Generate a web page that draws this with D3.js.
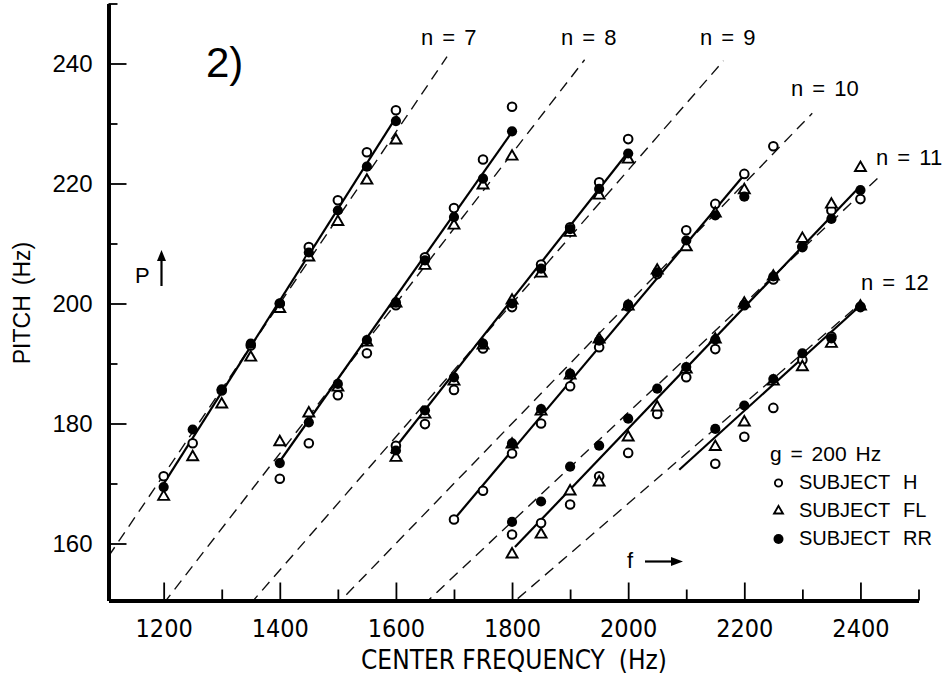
<!DOCTYPE html>
<html><head><meta charset="utf-8">
<script src="https://cdn.jsdelivr.net/npm/d3@7/dist/d3.min.js"></script>
<style>
html,body{margin:0;padding:0;background:#fff;}
svg{display:block;}
</style></head>
<body><svg id="chart" width="943" height="676"></svg>
<script>
// ---------------- DATA ----------------
const harmonicNumbers = [7, 8, 9, 10, 11, 12];

const freqN7  = [1200,1250,1300,1350,1400,1450,1500,1550,1600];
const hN7     = [171.2,176.7,185.5,193.0,200.0,209.4,217.2,225.2,232.2];
const flN7    = [167.8,174.4,183.2,191.0,199.1,207.7,213.6,220.5,227.2];
const rrN7    = [169.4,179.0,185.7,193.3,200.0,208.5,215.5,222.8,230.4];

const freqN8  = [1400,1450,1500,1550,1600,1650,1700,1750,1800];
const hN8     = [170.8,176.7,184.7,191.7,199.7,207.7,215.9,224.0,232.8];
const flN8    = [176.9,181.7,186.0,193.5,200.0,206.3,213.0,219.7,224.5];
const rrN8    = [173.4,180.2,186.6,193.9,200.2,207.2,214.4,220.8,228.7];

const freqN9  = [1600,1650,1700,1750,1800,1850,1900,1950,2000];
const hN9     = [176.3,179.9,185.6,192.5,199.4,206.5,212.7,220.2,227.4];
const flN9    = [174.3,181.5,187.0,193.0,200.5,205.0,211.8,218.0,224.0];
const rrN9    = [175.5,182.2,187.7,193.3,200.0,205.8,212.4,219.1,225.0];

const freqN10 = [1700,1750,1800,1850,1900,1950,2000,2050,2100,2150,2200,2250];
const hN10    = [164.0,168.8,175.0,180.0,186.2,192.7,199.5,204.9,212.2,216.6,221.6,226.2];
const flN10   = [null,null,176.5,182.0,188.0,194.0,199.5,205.5,209.4,215.0,218.9,null];
const rrN10   = [null,null,176.7,182.4,188.3,193.8,199.8,205.2,210.5,214.7,217.8,null];

const freqN11 = [1800,1850,1900,1950,2000,2050,2100,2150,2200,2250,2300,2350,2400];
const hN11    = [161.5,163.4,166.5,171.2,175.1,181.6,187.7,192.4,199.7,204.0,209.4,215.5,217.4];
const flN11   = [158.2,161.5,168.7,170.2,177.7,182.7,189.0,194.0,200.0,204.5,210.8,216.5,222.6];
const rrN11   = [163.6,167.0,172.8,176.3,180.8,185.8,189.4,194.0,199.8,204.5,209.5,214.1,218.9];

const freqN12 = [2150,2200,2250,2300,2350,2400];
const hN12    = [173.3,177.8,182.6,190.6,194.5,199.4];
const flN12   = [176.1,180.2,187.0,189.4,193.3,199.5];
const rrN12   = [179.1,183.0,187.4,191.7,194.2,199.5];

// solid fitted lines: [start f, start P], [end f, end P]
const fitStart = [[1195,169.2],[1395,173.0],[1591,175.0],[1700,164.0],[1805,159.4],[2088,172.3]];
const fitEnd   = [[1602,231.3],[1800,228.6],[1998,225.0],[2196,221.0],[2395,219.1],[2398,199.5]];

// dashed theoretical lines P = f/n end at these frequencies
const dashEndFreq = [1688, 1925, 2164, 2317, 2432, 2390];

const xMajorTicks = [1200,1400,1600,1800,2000,2200,2400];
const xMinorTicks = [1300,1500,1700,1900,2100,2300,2500];
const yMajorTicks = [160,180,200,220,240];
const yMinorTicks = [170,190,210,230,250];

const subjects = ["H","FL","RR"];

// ---------------- BUILD ----------------
const freqs = [freqN7,freqN8,freqN9,freqN10,freqN11,freqN12];
const hs  = [hN7,hN8,hN9,hN10,hN11,hN12];
const fls = [flN7,flN8,flN9,flN10,flN11,flN12];
const rrs = [rrN7,rrN8,rrN9,rrN10,rrN11,rrN12];

const svg = d3.select("#chart");
const X0 = 108.5, X1 = 918.5, Y0 = 600.5, Y1 = 3.5;
const x = d3.scaleLinear().domain([1105, 2500]).range([X0, X1]);
const y = d3.scaleLinear().domain([150.5, 250]).range([Y0, Y1]);

svg.append("defs").append("clipPath").attr("id","plotclip")
  .append("rect").attr("x", X0).attr("y", Y1).attr("width", X1 - X0).attr("height", Y0 - Y1);

const plot = svg.append("g").attr("clip-path","url(#plotclip)");

// dashed theoretical lines
harmonicNumbers.forEach((n,i) => {
  const f0 = 1105, f1 = dashEndFreq[i];
  plot.append("line")
    .attr("x1", x(f0)).attr("y1", y(f0/n))
    .attr("x2", x(f1)).attr("y2", y(f1/n))
    .attr("stroke","#111").attr("stroke-width",1.4)
    .attr("stroke-dasharray","11,7");
});

// solid fit lines
harmonicNumbers.forEach((n,i) => {
  plot.append("line")
    .attr("x1", x(fitStart[i][0])).attr("y1", y(fitStart[i][1]))
    .attr("x2", x(fitEnd[i][0])).attr("y2", y(fitEnd[i][1]))
    .attr("stroke","#000").attr("stroke-width",2.2);
});

// markers
const tri = d3.symbol().type(d3.symbolTriangle).size(52);
harmonicNumbers.forEach((n,i) => {
  const g = svg.append("g");
  const pts = (vals) => freqs[i].map((f,k)=>({f, p: vals[k]})).filter(d => d.p != null);
  g.selectAll("circle.h").data(pts(hs[i])).join("circle").attr("class","h")
    .attr("cx", d=>x(d.f)).attr("cy", d=>y(d.p)).attr("r",4.3)
    .attr("fill","#fff").attr("stroke","#000").attr("stroke-width",2);
  g.selectAll("path.fl").data(pts(fls[i])).join("path").attr("class","fl")
    .attr("d", tri).attr("transform", d=>`translate(${x(d.f)},${y(d.p)})`)
    .attr("fill","#fff").attr("stroke","#000").attr("stroke-width",1.9);
  g.selectAll("circle.rr").data(pts(rrs[i])).join("circle").attr("class","rr")
    .attr("cx", d=>x(d.f)).attr("cy", d=>y(d.p)).attr("r",5.1)
    .attr("fill","#000");
});

// ---------------- AXES ----------------
const axisFont = "'Liberation Sans', Arial, sans-serif";
const narrowFont = "'Liberation Sans Narrow', 'DejaVu Sans Condensed', 'Liberation Sans', sans-serif";

const xMinor = svg.append("g").attr("transform",`translate(0,${Y0})`)
  .call(d3.axisBottom(x).tickValues(xMinorTicks).tickSize(-11).tickSizeOuter(0).tickFormat(""));
const xMajor = svg.append("g").attr("transform",`translate(0,${Y0})`)
  .call(d3.axisBottom(x).tickValues(xMajorTicks).tickSize(-18).tickSizeOuter(0).tickPadding(19).tickFormat(d3.format("d")));
const yMinor = svg.append("g").attr("transform",`translate(${X0},0)`)
  .call(d3.axisLeft(y).tickValues(yMinorTicks).tickSize(-9).tickSizeOuter(0).tickFormat(""));
const yMajor = svg.append("g").attr("transform",`translate(${X0},0)`)
  .call(d3.axisLeft(y).tickValues(yMajorTicks).tickSize(-18).tickSizeOuter(0).tickPadding(16).tickFormat(d3.format("d")));

[xMinor,xMajor,yMinor,yMajor].forEach(a => {
  a.selectAll(".tick line").attr("stroke","#000").attr("stroke-width",1.8);
  a.select(".domain").attr("stroke","#000").attr("stroke-width",3.8);
});
xMajor.selectAll(".tick text").attr("font-family", narrowFont).attr("font-size",25).attr("fill","#000");
yMajor.selectAll(".tick text").attr("font-family", axisFont).attr("font-size",24).attr("fill","#000");

// axis titles
svg.append("text").attr("x",514).attr("y",669).attr("text-anchor","middle")
  .attr("font-family", narrowFont).attr("font-size",26).attr("fill","#000")
  .text("CENTER FREQUENCY").append("tspan").attr("dx",14).text("(Hz)");
svg.append("text").attr("transform","translate(30,303) rotate(-90)").attr("text-anchor","middle")
  .attr("font-family", axisFont).attr("font-size",23).attr("fill","#000")
  .text("PITCH").append("tspan").attr("dx",10).text("(Hz)");

// panel label
svg.append("text").attr("x",206).attr("y",77).attr("font-family",axisFont).attr("font-size",42)
  .attr("fill","#000").text("2)");

// harmonic labels
const nLabelPos = [[421,45],[561,45],[700,45],[791,96],[876,165],[861,290]];
harmonicNumbers.forEach((n,i) => {
  svg.append("text").attr("x",nLabelPos[i][0]).attr("y",nLabelPos[i][1])
    .attr("font-family",axisFont).attr("font-size",22).attr("word-spacing",3).attr("fill","#000")
    .text(`n = ${n}`);
});

// P arrow
svg.append("text").attr("x",135).attr("y",283).attr("font-family",axisFont).attr("font-size",22).attr("fill","#000").text("P");
svg.append("line").attr("x1",161.5).attr("y1",286).attr("x2",161.5).attr("y2",258).attr("stroke","#000").attr("stroke-width",2.2);
svg.append("path").attr("d","M161.5,250 L157,261 L166,261 Z").attr("fill","#000");
// f arrow
svg.append("text").attr("x",627).attr("y",568).attr("font-family",axisFont).attr("font-size",22).attr("fill","#000").text("f");
svg.append("line").attr("x1",645).attr("y1",561.5).attr("x2",674).attr("y2",561.5).attr("stroke","#000").attr("stroke-width",2.2);
svg.append("path").attr("d","M683,561.5 L671,557 L671,566 Z").attr("fill","#000");

// legend
svg.append("text").attr("x",770).attr("y",461).attr("font-family",axisFont).attr("font-size",21)
  .attr("word-spacing",3).attr("fill","#000").text("g = 200 Hz");
const legRows = [489, 517, 545];
subjects.forEach((s,i) => {
  const cy = legRows[i] - 6;
  if (s === "H") svg.append("circle").attr("cx",778.5).attr("cy",cy).attr("r",3.6).attr("fill","#fff").attr("stroke","#000").attr("stroke-width",1.9);
  if (s === "FL") svg.append("path").attr("d", d3.symbol().type(d3.symbolTriangle).size(34)).attr("transform",`translate(778.5,${cy})`).attr("fill","#fff").attr("stroke","#000").attr("stroke-width",1.9);
  if (s === "RR") svg.append("circle").attr("cx",778.5).attr("cy",cy).attr("r",5).attr("fill","#000");
  svg.append("text").attr("x",799).attr("y",legRows[i]).attr("font-family",axisFont).attr("font-size",20).attr("fill","#000").text("SUBJECT");
  svg.append("text").attr("x",903).attr("y",legRows[i]).attr("font-family",axisFont).attr("font-size",20).attr("fill","#000").text(s);
});
</script>
</body></html>
